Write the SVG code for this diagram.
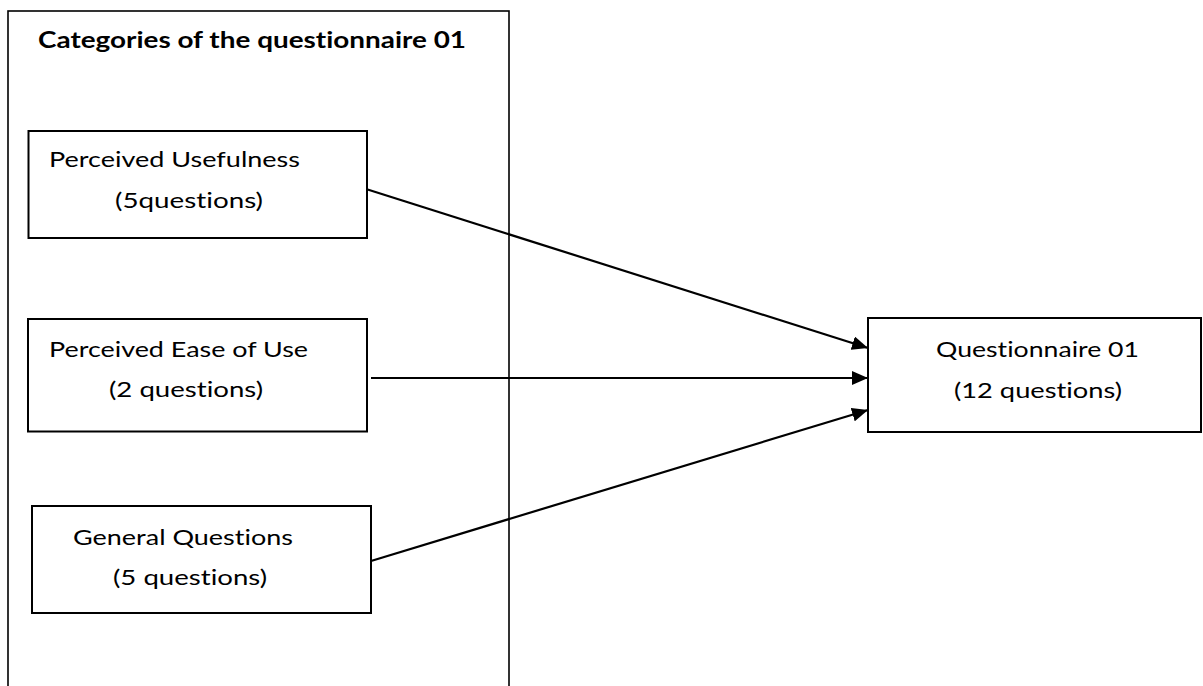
<svg xmlns="http://www.w3.org/2000/svg" width="1203" height="686" viewBox="0 0 1203 686">
<defs>
<style>
.box{fill:#fff;stroke:#000;stroke-width:2}
.outer{fill:none;stroke:#000;stroke-width:1.6}
.t{font-family:Lato,"Liberation Sans",sans-serif;font-size:22px;fill:#000;font-variant-ligatures:none}
.b{font-family:Lato,"Liberation Sans",sans-serif;font-size:23px;font-weight:bold;fill:#000;font-variant-ligatures:none}
.c{stroke:#000;stroke-width:2.2;fill:none;marker-end:url(#ah)}
</style>
<marker id="ah" markerUnits="userSpaceOnUse" markerWidth="18" markerHeight="14" refX="16" refY="7" orient="auto">
<path d="M0,0 L16,7 L0,14 Z" fill="#000"/>
</marker>
</defs>
<g id="categories">
<rect class="outer" x="8" y="11" width="501" height="700"/>
<text class="b" x="38" y="48" textLength="428" lengthAdjust="spacingAndGlyphs">Categories of the questionnaire 01</text>
</g>
<g id="connectors">
<line class="c" x1="366" y1="189" x2="868" y2="348"/>
<line class="c" x1="371" y1="378" x2="868" y2="378"/>
<line class="c" x1="371" y1="561" x2="868" y2="410"/>
</g>
<g id="usefulness">
<rect class="box" x="28.5" y="131" width="338.5" height="107"/>
<text class="t" x="49" y="167" textLength="251" lengthAdjust="spacingAndGlyphs">Perceived Usefulness</text>
<text class="t" x="115" y="208" textLength="148" lengthAdjust="spacingAndGlyphs">(5questions)</text>
</g>
<g id="ease">
<rect class="box" x="28" y="319" width="339" height="112.5"/>
<text class="t" x="49" y="357" textLength="259" lengthAdjust="spacingAndGlyphs">Perceived Ease of Use</text>
<text class="t" x="109" y="397" textLength="154" lengthAdjust="spacingAndGlyphs">(2 questions)</text>
</g>
<g id="general">
<rect class="box" x="32" y="506" width="339" height="107"/>
<text class="t" x="73" y="545" textLength="220" lengthAdjust="spacingAndGlyphs">General Questions</text>
<text class="t" x="113" y="585" textLength="154" lengthAdjust="spacingAndGlyphs">(5 questions)</text>
</g>
<g id="questionnaire">
<rect class="box" x="868" y="318" width="333" height="114"/>
<text class="t" x="936" y="357" textLength="203" lengthAdjust="spacingAndGlyphs">Questionnaire 01</text>
<text class="t" x="954" y="398" textLength="168" lengthAdjust="spacingAndGlyphs">(12 questions)</text>
</g>
</svg>
